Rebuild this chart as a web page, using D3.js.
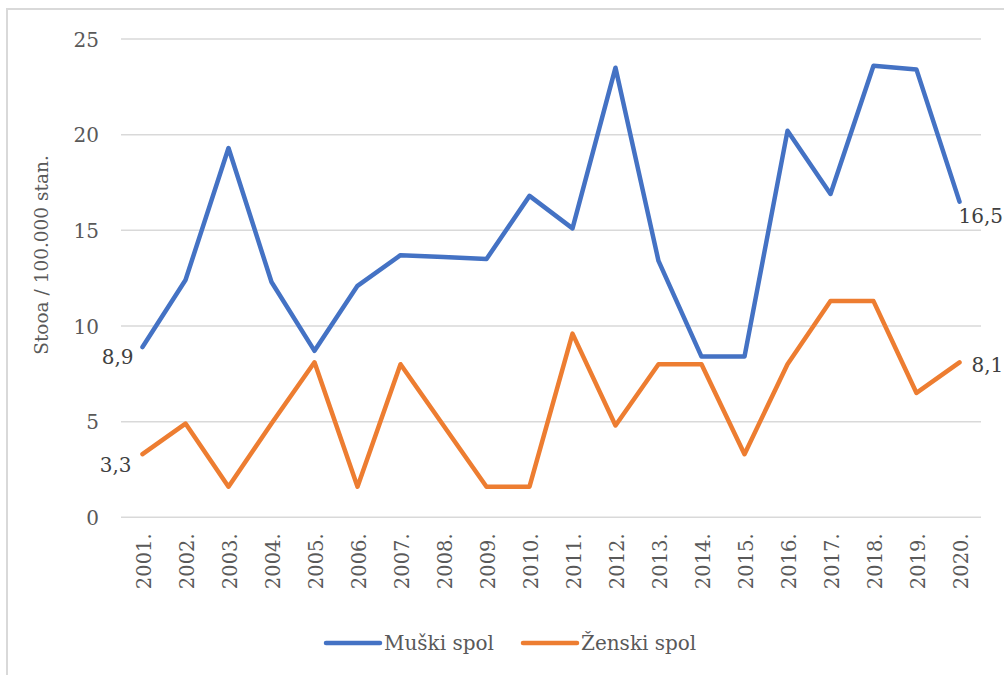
<!DOCTYPE html>
<html>
<head>
<meta charset="utf-8">
<script src="https://cdn.jsdelivr.net/npm/d3@7"></script>
<style>
  html, body { margin: 0; padding: 0; background: #fff; }
  svg { display: block; }
</style>
</head>
<body>
<svg id="chart" width="1004" height="675"></svg>
<script>
const years = ["2001.","2002.","2003.","2004.","2005.","2006.","2007.","2008.","2009.","2010.",
               "2011.","2012.","2013.","2014.","2015.","2016.","2017.","2018.","2019.","2020."];
const muski = [8.9,12.4,19.3,12.3,8.7,12.1,13.7,13.6,13.5,16.8,15.1,23.5,13.4,8.4,8.4,20.2,16.9,23.6,23.4,16.5];
const zenski = [3.3,4.9,1.6,4.9,8.1,1.6,8.0,4.8,1.6,1.6,9.6,4.8,8.0,8.0,3.3,8.0,11.3,11.3,6.5,8.1];
const yTicks = [0,5,10,15,20,25];
const seriesNames = ["Muški spol","Ženski spol"];
const colors = ["#4472C4","#ED7D31"];
const yTitle = "Stooa / 100.000 stan.";

const svg = d3.select("#chart");
const font = "'DejaVu Serif', 'Liberation Serif', serif";
const textColor = "#595959";

// chart border
svg.append("rect").attr("x",7).attr("y",9).attr("width",1020).attr("height",700)
  .attr("fill","none").attr("stroke","#d9d9d9").attr("stroke-width",2);

const pLeft = 121, pRight = 981, pTop = 39, pBottom = 517.3;
const x = d3.scaleBand().domain(years).range([pLeft,pRight]);
const y = d3.scaleLinear().domain([0,25]).range([pBottom,pTop]);

// gridlines
svg.append("g").selectAll("line").data(yTicks).join("line")
  .attr("x1",pLeft).attr("x2",pRight)
  .attr("y1",d=>y(d)).attr("y2",d=>y(d))
  .attr("stroke","#d9d9d9").attr("stroke-width",1.5);

// y axis labels
const yAxis = svg.append("g").attr("transform",`translate(${pLeft-22},0)`)
  .call(d3.axisLeft(y).tickValues(yTicks).tickSize(0).tickPadding(0));
yAxis.select(".domain").remove();
yAxis.selectAll("text").attr("font-family",font).attr("font-size",20).attr("fill",textColor)
  .attr("dy","0.36em");

// x axis labels
const xAxis = svg.append("g").attr("transform",`translate(0,${pBottom})`)
  .call(d3.axisBottom(x).tickSize(0).tickPadding(0));
xAxis.select(".domain").remove();
xAxis.selectAll("text")
  .attr("font-family",font).attr("font-size",19.5).attr("fill",textColor)
  .attr("transform","rotate(-90)")
  .attr("text-anchor","end")
  .attr("x",-16).attr("y",0).attr("dy","0.45em");

// y title
svg.append("text")
  .attr("transform","translate(48,255) rotate(-90)")
  .attr("text-anchor","middle")
  .attr("font-family",font).attr("font-size",18.5).attr("fill",textColor)
  .text(yTitle);

// lines
const cx = d => x(d) + x.bandwidth()/2;
const line = d3.line().x((d,i)=>cx(years[i])).y(d=>y(d));
[muski, zenski].forEach((s,k)=>{
  svg.append("path").datum(s).attr("d",line)
    .attr("fill","none").attr("stroke",colors[k]).attr("stroke-width",4.5)
    .attr("stroke-linejoin","round").attr("stroke-linecap","round");
});

// data labels
const fmt = v => String(v).replace(".",",");
const lab = (txt, xx, yy, anchor) => svg.append("text")
  .attr("x",xx).attr("y",yy).attr("text-anchor",anchor).attr("dy","0.36em")
  .attr("font-family",font).attr("font-size",20).attr("fill","#404040").text(txt);
const n = years.length - 1;
lab(fmt(muski[0]), cx(years[0]) - 9, y(muski[0]) + 10, "end");
lab(fmt(zenski[0]), cx(years[0]) - 11, y(zenski[0]) + 11, "end");
lab(fmt(muski[n]), cx(years[n]) - 1, y(muski[n]) + 14, "start");
lab(fmt(zenski[n]), cx(years[n]) + 12, y(zenski[n]) + 2, "start");

// legend
const legend = svg.append("g");
const legItems = [{x:326},{x:523}];
seriesNames.forEach((name,k)=>{
  const lx = legItems[k].x, ly = 643;
  legend.append("line").attr("x1",lx).attr("x2",lx+54).attr("y1",ly).attr("y2",ly)
    .attr("stroke",colors[k]).attr("stroke-width",4.5).attr("stroke-linecap","round");
  legend.append("text").attr("x",lx+58).attr("y",ly).attr("dy","0.36em")
    .attr("font-family",font).attr("font-size",20).attr("fill",textColor).text(name);
});
</script>
</body>
</html>
